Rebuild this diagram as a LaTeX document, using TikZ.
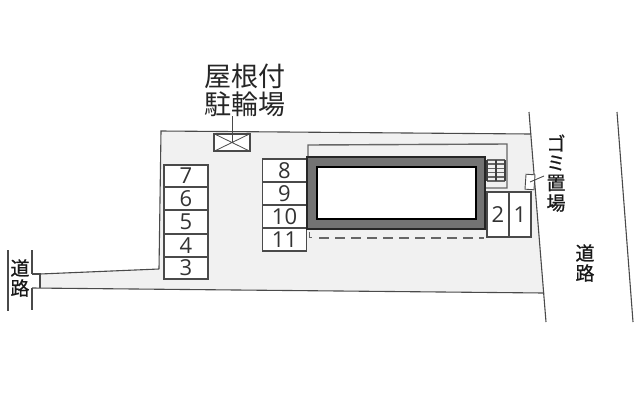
\documentclass[tikz,border=0pt]{standalone}
\usepackage{fontspec}
\setmainfont{Open Sans}
\newfontfamily\cjk{Noto Sans CJK JP}
\newfontfamily\cjkm[FakeBold=0.8]{Noto Sans CJK JP}
\definecolor{sitegray}{HTML}{F1F1F1}
\definecolor{ln}{HTML}{4A4A4A}
\tikzset{
  x=1pt,y=-1pt,
  edge/.style={draw=ln,line width=1.1pt},
  slot/.style={draw=ln,line width=1.1pt,fill=white,minimum width=44pt,inner sep=0pt,outer sep=0pt,font=\fontsize{22}{22}\selectfont,text=black!80},
  jp/.style={inner sep=0pt,font=\cjk\fontsize{27}{27}\selectfont,text=black!85},
  jps/.style={inner sep=0pt,font=\cjkm\fontsize{19}{19}\selectfont,text=black!90},
}
\begin{document}
\begin{tikzpicture}
\useasboundingbox (0,0) rectangle (640,400);
\fill[white] (0,0) rectangle (640,400);
% site
\fill[sitegray] (40,274) -- (159,269) -- (161,131) -- (531,134) -- (544,293) -- (40,288) -- cycle;
\draw[edge] (159,269) -- (161,131) -- (531,134);
\draw[edge] (40,274) -- (159,269);
\draw[edge] (32,288) -- (544,293);
\draw[edge] (32,274) -- (40,274) -- (40,288);
% roads
\draw[edge] (529,112) -- (546,322);
\draw[edge] (617,112) -- (633,322);
\draw[edge] (8,250) -- (8,311);
\draw[edge] (32,250) -- (32,274);
\draw[edge] (32,288) -- (32,310);
% left slots
\node[slot,minimum height=22pt] (s7) at (186,176) {7};
\node[slot,minimum height=23pt] (s6) at (186,198.5) {6};
\node[slot,minimum height=24pt] (s5) at (186,222) {5};
\node[slot,minimum height=23pt] (s4) at (186,245.5) {4};
\node[slot,minimum height=22pt] (s3) at (186,268) {3};
% middle slots
\node[slot,minimum height=23pt] (s8) at (284.5,170.5) {8};
\node[slot,minimum height=23pt] (s9) at (284.5,193.5) {9};
\node[slot,minimum height=23pt] (s10) at (284.5,216.5) {10};
\node[slot,minimum height=23pt] (s11) at (284.5,239.5) {11};
% upper outline
\draw[draw=black!60,line width=1.4pt] (308,157) -- (308,145) -- (507,144) -- (507,188) -- (485,188);
% stairs
\foreach \y in {160,164.2,168.4,172.6,176.8,181} \draw[draw=black!60,line width=1.6pt] (487,\y) -- (505,\y);
\foreach \x in {487,496,505} \draw[draw=black!75,line width=1.6pt] (\x,160) -- (\x,181);
% building
\draw[fill=black!55,draw=black!85,line width=1.2pt] (307,157) rectangle (485,229);
\draw[fill=white,draw=black,line width=1.4pt] (317,167) rectangle (476,219);
% dashed
\draw[draw=black!60,line width=1pt] (309,232) -- (309,237) -- (312,237);
\draw[draw=black!60,line width=1.2pt,dash pattern=on 10pt off 6pt] (319,238) -- (484,238);
% slots 1,2
\node[slot,minimum width=22pt,minimum height=45pt] (s2) at (498,214.5) {2};
\node[slot,minimum width=22pt,minimum height=45pt] (s1) at (520,214.5) {1};
% refuse box
\node[draw=ln,line width=0.9pt,fill=white,minimum width=9pt,minimum height=15pt,inner sep=0pt,rotate=-4] (trash) at (530,182) {};
\coordinate (tl) at (544,176);
\draw[draw=ln,line width=0.9pt] (trash.center) -- (tl);
% bike
\node[draw=ln,line width=1.1pt,fill=white,minimum width=36pt,minimum height=17pt,inner sep=0pt] (bike) at (232,142.5) {};
\draw[draw=ln,line width=0.8pt] (bike.north west) -- (bike.south east) (bike.south west) -- (bike.north east);
\coordinate (bl) at (232,116);
\draw[draw=ln,line width=1pt] (bl) -- (bike.center);
% labels
\node[jp] (a1) at (245,76) {屋根付};
\node[jp] (a2) at (245,104) {駐輪場};
\node[jps] (l1) at (20,268) {道};
\node[jps] (l2) at (20,288) {路};
\node[jps] (r1) at (585,253) {道};
\node[jps] (r2) at (585,273) {路};
\node[jps] (g1) at (556,143) {ゴ};
\node[jps] (g2) at (556,163) {ミ};
\node[jps] (g3) at (556,183) {置};
\node[jps] (g4) at (556,203) {場};
\end{tikzpicture}
\end{document}
